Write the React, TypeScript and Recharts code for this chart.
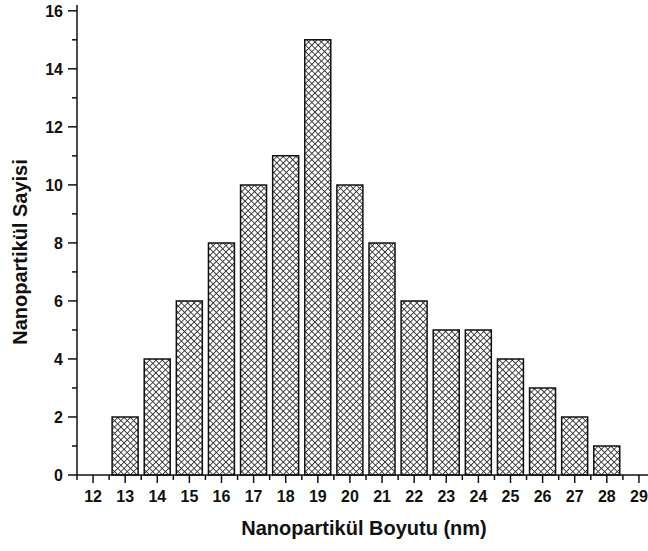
import React from "react";
import { ComposedChart, Bar, XAxis, YAxis } from "recharts";

const sizes = [13, 14, 15, 16, 17, 18, 19, 20, 21, 22, 23, 24, 25, 26, 27, 28];
const counts = [2, 4, 6, 8, 10, 11, 15, 10, 8, 6, 5, 5, 4, 3, 2, 1];
// major ticks are whole numbers, minor ticks fall halfway between
const xTicks = [11.5, 12, 12.5, 13, 13.5, 14, 14.5, 15, 15.5, 16, 16.5, 17, 17.5, 18, 18.5, 19, 19.5, 20, 20.5, 21, 21.5, 22, 22.5, 23, 23.5, 24, 24.5, 25, 25.5, 26, 26.5, 27, 27.5, 28, 28.5, 29];
const yTicks = [0, 1, 2, 3, 4, 5, 6, 7, 8, 9, 10, 11, 12, 13, 14, 15, 16];

const data = sizes.map((size, i) => ({ size, count: counts[i] }));

const font = "'Liberation Sans', Arial, sans-serif";
const ink = "#111";

function XTick(props: any) {
  const { x, y, payload } = props;
  const v = payload.value;
  const major = Number.isInteger(v);
  return (
    <g>
      <line x1={x} x2={x} y1={y} y2={y + (major ? 8 : 5)} stroke={ink} strokeWidth={1.5} />
      {major && (
        <text x={x} y={y + 27} textAnchor="middle" fontSize={16} fontWeight={700} fill={ink} fontFamily={font}>
          {v}
        </text>
      )}
    </g>
  );
}

function YTick(props: any) {
  const { x, y, payload } = props;
  const v = payload.value;
  const major = v % 2 === 0;
  return (
    <g>
      <line x1={x - (major ? 9 : 5)} x2={x} y1={y} y2={y} stroke={ink} strokeWidth={1.5} />
      {major && (
        <text x={x - 14} y={y + 6} textAnchor="end" fontSize={16} fontWeight={700} fill={ink} fontFamily={font}>
          {v}
        </text>
      )}
    </g>
  );
}

export default function App() {
  return (
    <div style={{ position: "absolute", left: 0, top: 0, width: 648, height: 551, overflow: "hidden", background: "#fff" }}>
      <ComposedChart width={655} height={551} data={data} margin={{ top: 5, right: 0, bottom: 0, left: 0 }}>
        <defs>
          <pattern id="hatch" width="4.5" height="4.5" patternUnits="userSpaceOnUse" patternTransform="rotate(45)">
            <rect width="4.5" height="4.5" fill="#fff" />
            <line x1="0" y1="0" x2="0" y2="4.5" stroke="#2a2a2a" strokeWidth="1.7" />
            <line x1="0" y1="0" x2="4.5" y2="0" stroke="#2a2a2a" strokeWidth="1.7" />
          </pattern>
        </defs>
        <XAxis
          dataKey="size"
          type="number"
          domain={[11.5, 29.5]}
          ticks={xTicks}
          interval={0}
          tickSize={0}
          tickMargin={0}
          tick={<XTick />}
          tickLine={false}
          axisLine={{ stroke: ink, strokeWidth: 1.5 }}
          height={76}
          label={{
            value: "Nanopartikül Boyutu (nm)",
            content: () => (
              <text x={364} y={535} textAnchor="middle" fontSize={20} fontWeight={700} fill={ink} fontFamily={font}>
                Nanopartikül Boyutu (nm)
              </text>
            ),
          }}
        />
        <YAxis
          type="number"
          domain={[0, 16.2]}
          ticks={yTicks}
          interval={0}
          tickSize={0}
          tickMargin={0}
          tick={<YTick />}
          tickLine={false}
          axisLine={{ stroke: ink, strokeWidth: 1.5 }}
          width={77}
          label={{
            value: "Nanopartikül Sayisi",
            content: () => (
              <text
                x={27}
                y={252}
                transform="rotate(-90 27 252)"
                textAnchor="middle"
                fontSize={20}
                fontWeight={700}
                fill={ink}
                fontFamily={font}
              >
                Nanopartikül Sayisi
              </text>
            ),
          }}
        />
        <Bar dataKey="count" barSize={26} fill="url(#hatch)" stroke={ink} strokeWidth={1.5} isAnimationActive={false} />
      </ComposedChart>
    </div>
  );
}
